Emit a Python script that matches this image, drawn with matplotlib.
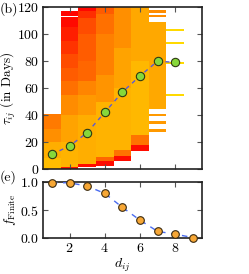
import numpy as np
import matplotlib
matplotlib.use("Agg")
import matplotlib.pyplot as plt

plt.rcParams['font.family'] = 'serif'
plt.rcParams['font.serif'] = ['cmr10', 'DejaVu Serif']
plt.rcParams['mathtext.fontset'] = 'cm'
plt.rcParams['axes.formatter.use_mathtext'] = True
plt.rcParams['font.size'] = 10

nan = np.nan

# distance d_ij and mean waiting time per distance
d_vals = [1, 2, 3, 4, 5, 6, 7, 8]
tau_mean = [11, 17, 27, 42, 57, 69, 80, 79]

# fraction of finite waiting times per distance
d_frac = [1, 2, 3, 4, 5, 6, 7, 8, 9]
f_finite = [0.99, 0.99, 0.93, 0.80, 0.55, 0.32, 0.12, 0.07, 0.01]

# histogram of tau per distance column: bin edges (days) and colour level
# (0 = rare / red, 1 = frequent / yellow), nan = empty
col1_edges = [0, 8, 20, 30, 41]
col1_levels = [0.74, 0.68, 0.56, 0.48]
col2_edges = [0, 1.5, 20, 40, 55, 65, 75, 85, 95, 105, 112.5, 113.5, 117]
col2_levels = [0.1, 0.7, 0.64, 0.55, 0.44, 0.36, 0.3, 0.2, 0.12, 0.04, nan, 0.02]
col3_edges = [1.5, 4, 40, 55, 65, 80, 100, 112, 117, 120]
col3_levels = [0.05, 0.68, 0.6, 0.52, 0.4, 0.36, 0.3, 0.18, 0.03]
col4_edges = [2.5, 5.7, 9, 50, 70, 100, 115, 120]
col4_levels = [0.05, 0.4, 0.7, 0.58, 0.5, 0.44, 0.36]
col5_edges = [5.7, 9.5, 14, 60, 90, 120]
col5_levels = [0.05, 0.45, 0.7, 0.64, 0.56]
col6_edges = [13.6, 18, 25, 80, 120]
col6_levels = [0.05, 0.45, 0.72, 0.66]
col7_edges = [27.5, 29.5, 33.4, 35.4, 39.4, 41.1, 44.6, 109, 112.5, 114, 116, 118]
col7_levels = [0.6, nan, 0.6, nan, 0.6, nan, 0.66, nan, 0.55, nan, 0.55]
col8_edges = [54, 55.5, 78, 79.5, 92.5, 94, 102, 103.5]
col8_levels = [0.85, nan, 0.85, nan, 0.85, nan, 0.85]

columns = [(1, col1_edges, col1_levels), (2, col2_edges, col2_levels),
           (3, col3_edges, col3_levels), (4, col4_edges, col4_levels),
           (5, col5_edges, col5_levels), (6, col6_edges, col6_levels),
           (7, col7_edges, col7_levels), (8, col8_edges, col8_levels)]

fig = plt.figure(figsize=(2.49, 2.74), dpi=100)
ax1 = fig.add_axes([0.173, 0.383, 0.637, 0.591])
ax2 = fig.add_axes([0.173, 0.131, 0.637, 0.204])

for d, edges, levels in columns:
    C = np.ma.masked_invalid(np.array(levels, dtype=float).reshape(-1, 1))
    ax1.pcolormesh([d - 0.5, d + 0.5], edges, C, cmap='autumn',
                   vmin=0, vmax=1, shading='flat', linewidth=0)

ax1.plot(d_vals, tau_mean, '--', color='#5a5ad6', lw=1.0, dashes=(3, 3), zorder=3)
ax1.plot(d_vals, tau_mean, 'o', ms=6, mfc='#86d83a', mec='#2e3a14', mew=0.8,
         zorder=4, clip_on=False)
ax1.set_xlim(0.5, 9.5)
ax1.set_ylim(0, 120)
ax1.set_xticks([2, 4, 6, 8])
ax1.set_xticklabels([])
ax1.set_yticks([0, 20, 40, 60, 80, 100, 120])
ax1.set_ylabel(r'$\tau_{ij}$ (in Days)', fontsize=9.5)
ax1.yaxis.set_label_coords(-0.16, 0.5)

ax2.plot(d_frac, f_finite, '--', color='#4a6cf0', lw=1.0, dashes=(4, 4), zorder=3)
ax2.plot(d_frac, f_finite, 'o', ms=5.5, mfc='#f7a735', mec='#3a2a10', mew=0.8,
         zorder=4, clip_on=False)
ax2.set_xlim(0.5, 9.5)
ax2.set_ylim(0, 1.0)
ax2.set_xticks([2, 4, 6, 8])
ax2.set_yticks([0.0, 0.5, 1.0])
ax2.set_xlabel(r'$d_{ij}$', labelpad=1)
ax2.set_ylabel(r'$f_{\rm Finite}$', fontsize=9.5)
ax2.yaxis.set_label_coords(-0.16, 0.5)

for ax in (ax1, ax2):
    ax.tick_params(direction='in', length=3.5, width=0.8, color='#555555',
                   top=True, right=True, pad=3)
    for s in ax.spines.values():
        s.set_linewidth(1.2)
        s.set_color('#222222')

fig.text(0.0, 0.967, '(b)', ha='left', va='center')
fig.text(0.0, 0.352, '(e)', ha='left', va='center')

fig.savefig('out.png', dpi=100)
